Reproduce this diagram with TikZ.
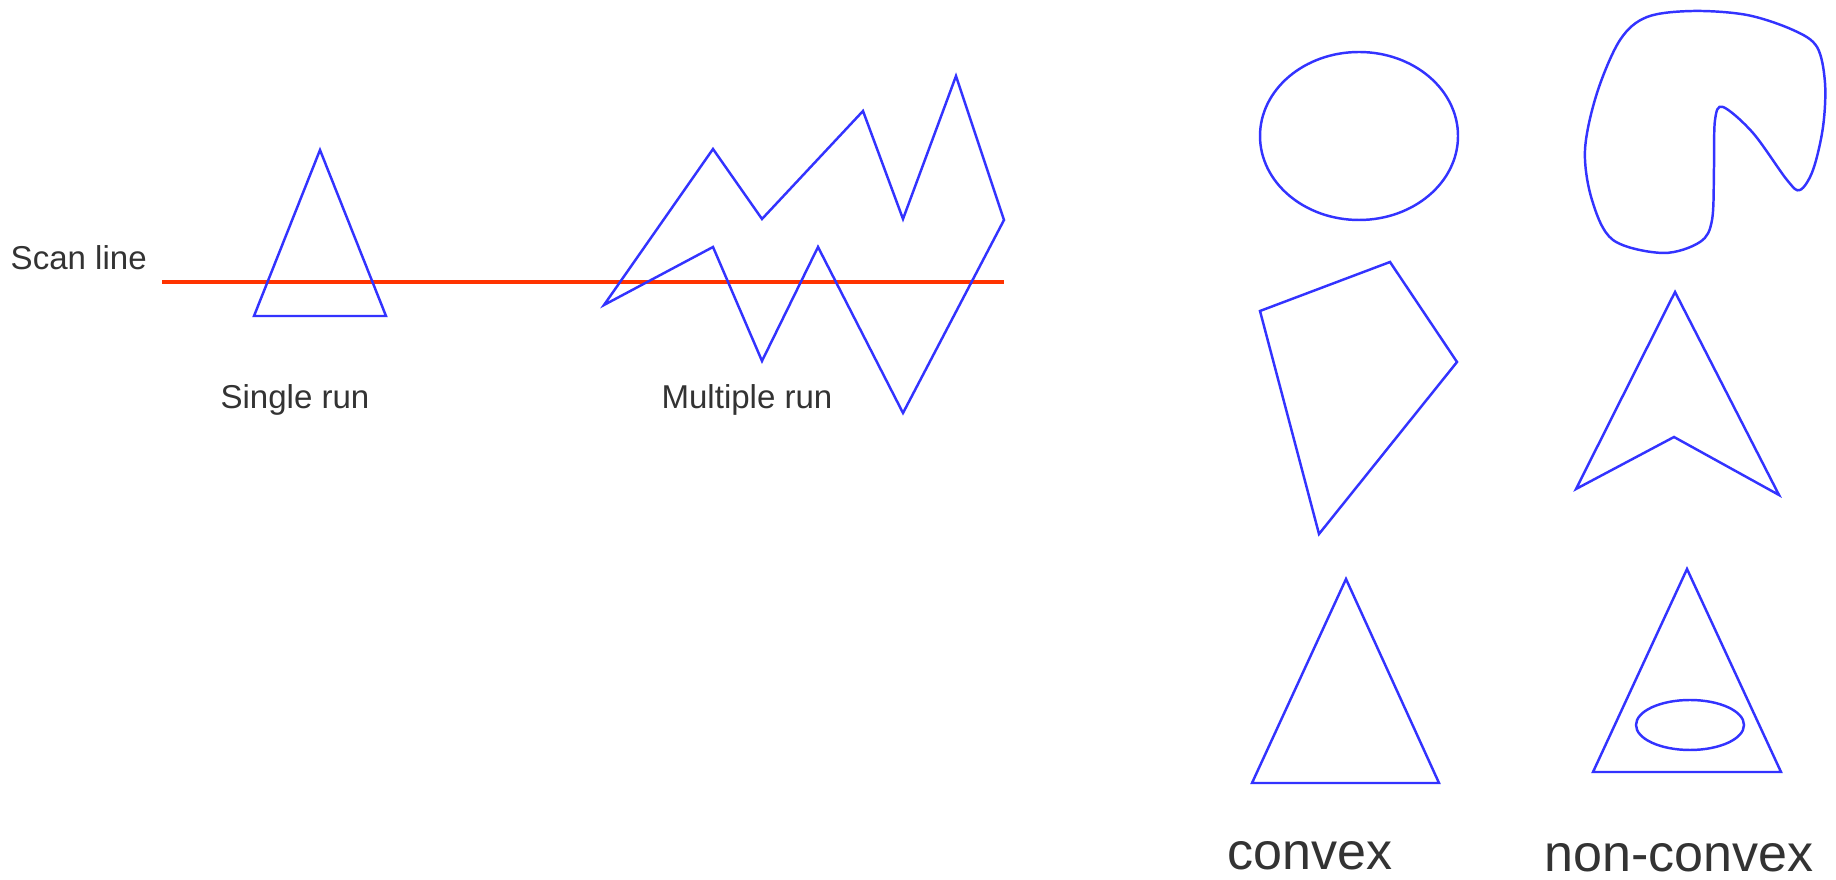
\documentclass[tikz,border=0pt]{standalone}
\usepackage{fontspec}
\setmainfont{Liberation Sans}
\usepackage{tikz}
\usetikzlibrary{positioning,calc}

\definecolor{shapeblue}{RGB}{51,51,255}
\definecolor{scanred}{RGB}{255,51,0}
\definecolor{labelgray}{RGB}{51,51,51}

\tikzset{
  outline/.style={draw=shapeblue,line width=0.7pt,line join=miter},
  scanline/.style={draw=scanred,line width=0.9pt},
  smalllabel/.style={text=labelgray,inner sep=0pt,font=\fontsize{9.4}{11}\selectfont},
  biglabel/.style={text=labelgray,inner sep=0pt,font=\fontsize{14.8}{17}\selectfont}
}

\begin{document}
\begin{tikzpicture}[x=0.01cm,y=-0.01cm]
\useasboundingbox (0,0) rectangle (1836,880);
% Scan line across both polygons
\coordinate (scanL) at (162,282);
\coordinate (scanR) at (1004,282);
\draw[scanline] (scanL) -- (scanR);
\node[smalllabel,anchor=base west] (scanlbl) at (10,270) {Scan line};
% Single run: simple triangle
\draw[outline] (254,316) -- (320,150) -- (386,316) -- cycle;
\node[smalllabel,anchor=base] (single) at (295,409) {Single run};
% Multiple run: zig-zag polygon
\draw[outline] (604,305) -- (713,149) -- (762,219) -- (863,111)
  -- (903,219) -- (956,76) -- (1004,220) -- (903,413)
  -- (818,247) -- (762,361) -- (713,247) -- cycle;
\node[smalllabel,anchor=base] (multi) at (747,409) {Multiple run};
% Convex column
\draw[outline] (1359,136) ellipse [x radius=99,y radius=84];
\draw[outline] (1260,311) -- (1390,262) -- (1457,362) -- (1319,534) -- cycle;
\draw[outline] (1252,783) -- (1346,579) -- (1439,783) -- cycle;
\node[biglabel,anchor=base] (convex) at (1310,870) {convex};
% Non-convex column
\draw[outline] plot[smooth cycle,tension=0.55] coordinates {
  (1693,11) (1747,15) (1793,30) (1817,47) (1825,83) (1823,127)
  (1813,170) (1800,190) (1787,180) (1753,133) (1723,107) (1715,120)
  (1714,167) (1712,220) (1700,242) (1663,253) (1613,240) (1592,200)
  (1585,150) (1597,93) (1620,40) (1647,17)};
\draw[outline] (1576,489) -- (1675,292) -- (1779,495) -- (1674,437) -- cycle;
\draw[outline] (1593,772) -- (1687,569) -- (1781,772) -- cycle;
\draw[outline] (1690,725) ellipse [x radius=54,y radius=25];
\node[biglabel,anchor=base] (noncvx) at (1679,872) {non-convex};
\end{tikzpicture}
\end{document}
